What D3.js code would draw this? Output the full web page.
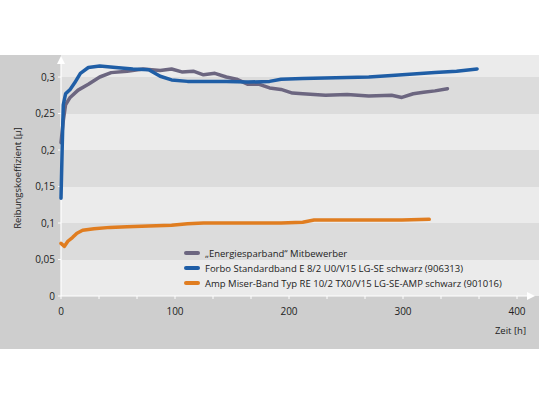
<!DOCTYPE html>
<html><head><meta charset="utf-8">
<script src="https://cdn.jsdelivr.net/npm/d3@7"></script>
<style>body{margin:0;background:#fff}text{font-family:"Open Sans",sans-serif}</style>
</head><body>
<script>
// hours / friction values
var greyX = [0, 2, 4, 8, 15, 24, 34, 44, 58, 72, 87, 97, 106, 116, 125, 135, 145, 154, 164, 174, 183, 193, 203, 212, 232, 251, 270, 290, 299, 309, 318, 328, 339];
var greyY = [0.21, 0.24, 0.262, 0.272, 0.282, 0.29, 0.3, 0.306, 0.308, 0.311, 0.309, 0.311, 0.307, 0.308, 0.303, 0.305, 0.3, 0.297, 0.29, 0.29, 0.285, 0.283, 0.278, 0.277, 0.275, 0.276, 0.274, 0.275, 0.272, 0.277, 0.279, 0.281, 0.284];
var blueX = [0, 1, 2, 4, 8, 12, 17, 24, 34, 48, 63, 77, 87, 97, 111, 125, 145, 164, 183, 193, 212, 241, 270, 290, 309, 328, 347, 365];
var blueY = [0.134, 0.2, 0.262, 0.277, 0.283, 0.292, 0.305, 0.313, 0.315, 0.313, 0.311, 0.31, 0.301, 0.296, 0.294, 0.294, 0.294, 0.293, 0.294, 0.297, 0.298, 0.299, 0.3, 0.302, 0.304, 0.306, 0.308, 0.311];
var orangeX = [0, 3, 6, 10, 14, 19, 29, 43, 58, 77, 97, 111, 125, 154, 193, 212, 222, 251, 280, 299, 323];
var orangeY = [0.072, 0.068, 0.075, 0.08, 0.086, 0.09, 0.092, 0.094, 0.095, 0.096, 0.097, 0.099, 0.1, 0.1, 0.1, 0.101, 0.104, 0.104, 0.104, 0.104, 0.105];
var names = ["\u201eEnergiesparband\u201c Mitbewerber", "Forbo Standardband E 8/2 U0/V15 LG-SE schwarz (906313)", "Amp Miser-Band Typ RE 10/2 TX0/V15 LG-SE-AMP schwarz (901016)"];
var colors = ["#6c6680", "#1f5ea6", "#e07d20"];
var yTicks = [0, 0.05, 0.1, 0.15, 0.2, 0.25, 0.3];
var yLabels = ["0", "0,05", "0,1", "0,15", "0,2", "0,25", "0,3"];
var xTicks = [0, 100, 200, 300, 400];

var W = 539, H = 404;
var svg = d3.select("body").append("svg").attr("width", W).attr("height", H);
var x = d3.scaleLinear().domain([0, 400]).range([61, 517]);
var y = d3.scaleLinear().domain([0, 0.3]).range([296, 77]);

svg.append("rect").attr("x", 0).attr("y", 55).attr("width", W).attr("height", 294).attr("fill", "#cecece");
// bands
var bands = d3.range(0, 0.35, 0.05);
svg.selectAll(".band").data(bands).enter().append("rect")
  .attr("x", x(0)).attr("width", W - x(0))
  .attr("y", function(d){ return d >= 0.3 ? 55 : y(d + 0.05); })
  .attr("height", function(d){ return d >= 0.3 ? y(0.3) - 55 : y(d) - y(d + 0.05); })
  .attr("fill", function(d, i){ return i % 2 == 0 ? "#ebebeb" : "#dcdcdc"; });

// axes
svg.append("line").attr("x1", x(0)).attr("x2", 528).attr("y1", y(0)).attr("y2", y(0)).attr("stroke", "#fff").attr("stroke-width", 1.2);
svg.append("path").attr("d", "M527,292L535,296L527,300Z").attr("fill", "#fff");
svg.append("line").attr("x1", x(0)).attr("x2", x(0)).attr("y1", y(0)).attr("y2", 64).attr("stroke", "#fff").attr("stroke-width", 1.2);
svg.append("path").attr("d", "M" + (x(0)-4) + ",64L" + x(0) + ",56L" + (x(0)+4) + ",64Z").attr("fill", "#fff");

var minor = d3.range(0, 401, 100 / 3);
svg.selectAll(".xt").data(minor).enter().append("line")
  .attr("x1", function(d){ return x(d); }).attr("x2", function(d){ return x(d); })
  .attr("y1", y(0)).attr("y2", y(0) + 3).attr("stroke", "#fff");
svg.selectAll(".yt").data(yTicks).enter().append("line")
  .attr("x1", x(0) - 3).attr("x2", x(0)).attr("y1", function(d){ return y(d); }).attr("y2", function(d){ return y(d); }).attr("stroke", "#fff");

svg.selectAll(".xl").data(xTicks).enter().append("text")
  .attr("x", function(d){ return x(d); }).attr("y", 315).attr("text-anchor", "middle")
  .attr("font-size", 10).attr("fill", "#222").text(function(d){ return d; });
svg.selectAll(".yl").data(yTicks).enter().append("text")
  .attr("x", x(0) - 6).attr("y", function(d){ return y(d) + 3.5; }).attr("text-anchor", "end")
  .attr("font-size", 10).attr("fill", "#222").text(function(d, i){ return yLabels[i]; });

svg.append("text").attr("x", 526).attr("y", 334).attr("text-anchor", "end").attr("font-size", 9.5).attr("fill", "#222").text("Zeit [h]");
svg.append("text").attr("transform", "translate(21,178)rotate(-90)").attr("text-anchor", "middle")
  .attr("font-size", 9.5).attr("fill", "#222").text("Reibungskoeffizient [\u00b5]");

var series = [[greyX, greyY], [blueX, blueY], [orangeX, orangeY]];
var line = d3.line().x(function(d){ return x(d[0]); }).y(function(d){ return y(d[1]); });
series.forEach(function(s, i){
  svg.append("path").datum(d3.zip(s[0], s[1])).attr("d", line)
    .attr("fill", "none").attr("stroke", colors[i]).attr("stroke-width", 3.5)
    .attr("stroke-linejoin", "round").attr("stroke-linecap", "round");
});

// legend
names.forEach(function(n, i){
  var ly = 253 + i * 15;
  svg.append("line").attr("x1", 186).attr("x2", 198).attr("y1", ly).attr("y2", ly)
    .attr("stroke", colors[i]).attr("stroke-width", 4).attr("stroke-linecap", "round");
  svg.append("text").attr("x", 205).attr("y", ly + 3.5).attr("font-size", 9.5).attr("fill", "#222").text(n);
});
</script>
</body></html>
